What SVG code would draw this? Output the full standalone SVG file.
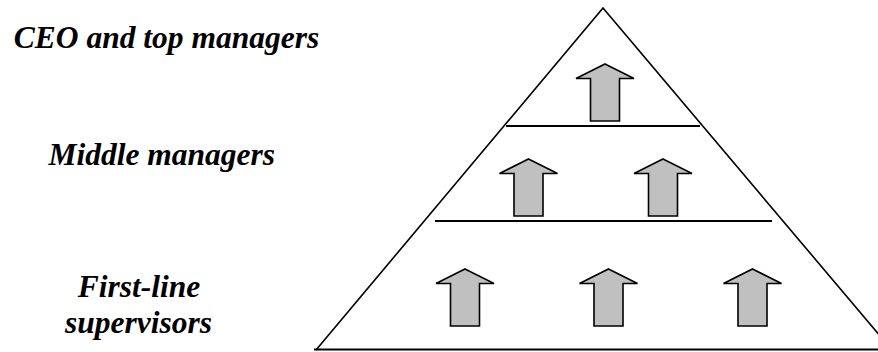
<svg xmlns="http://www.w3.org/2000/svg" width="878" height="352" viewBox="0 0 878 352">
  <style>
    .label { font-family: "Liberation Serif", "Times New Roman", serif; font-weight: bold; font-style: italic; font-size: 31.5px; fill: #000; text-anchor: middle; }
    .edge { fill: none; stroke: #000; stroke-width: 1.6; }
    .divider { stroke: #000; stroke-width: 2; }
    .up { fill: #c0c0c0; stroke: #000; stroke-width: 1.6; stroke-linejoin: miter; }
  </style>
  <defs>
    <!-- block arrow pointing up, tip at origin -->
    <path id="up-arrow" class="up" d="M0,0 L29,14.5 L14.5,14.5 L14.5,57 L-14.5,57 L-14.5,14.5 L-29,14.5 Z"/>
  </defs>
  <rect width="878" height="352" fill="#fff"/>

  <!-- pyramid outline and level dividers -->
  <g id="pyramid">
    <polyline class="edge" points="316,350 603,8 892,350"/>
    <line class="divider" x1="314" y1="349.5" x2="878" y2="349.5"/>
    <line class="divider" x1="506" y1="126" x2="700" y2="126"/>
    <line class="divider" x1="435" y1="221" x2="772" y2="221"/>
  </g>

  <!-- upward arrows within each level -->
  <g id="arrows">
    <use href="#up-arrow" x="605" y="64"/>
    <use href="#up-arrow" x="528.5" y="159"/>
    <use href="#up-arrow" x="663" y="159"/>
    <use href="#up-arrow" x="465" y="269"/>
    <use href="#up-arrow" x="608.5" y="269"/>
    <use href="#up-arrow" x="752.5" y="269"/>
  </g>

  <g id="level-top">
    <text class="label" x="166.5" y="48">CEO and top managers</text>
  </g>
  <g id="level-middle">
    <text class="label" x="161.7" y="165">Middle managers</text>
  </g>
  <g id="level-first">
    <text class="label" x="139" y="296.5">First-line</text>
    <text class="label" x="138.5" y="333">supervisors</text>
  </g>
</svg>
